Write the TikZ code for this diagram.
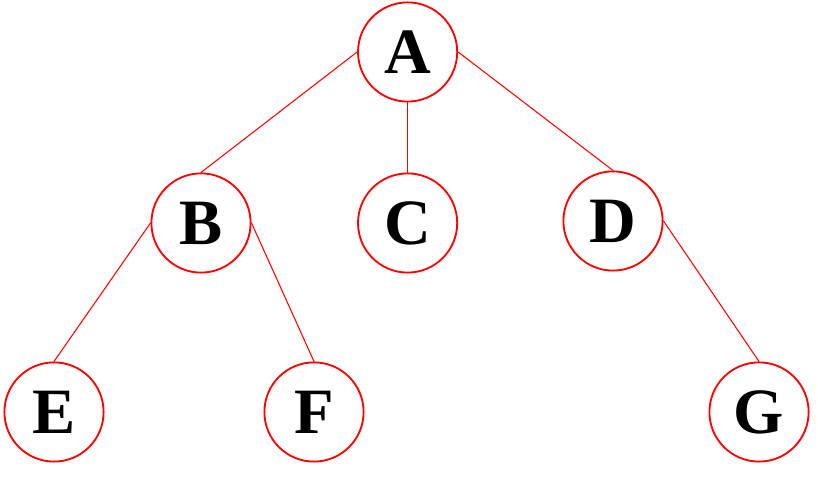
\documentclass[tikz,border=0pt]{standalone}
\usepackage{fontspec}
\setmainfont{Liberation Serif}

\begin{document}
\begin{tikzpicture}[line join=round, line cap=round]
	\tikzset{
		vertex/.style={circle, draw=red, line width=1.3pt, minimum size=2.48cm, inner sep=0pt,
			font=\fontsize{46}{46}\selectfont\bfseries},
		branch/.style={red, line width=0.75pt}
	}
	\useasboundingbox (0,0) rectangle (20.45,12.075);
	% Vertices
	\node[vertex] (A) at (10.19,10.775) {A};
	\node[vertex] (B) at (5.025,6.5) {B};
	\node[vertex] (C) at (10.19,6.5) {C};
	\node[vertex] (D) at (15.325,6.55) {D};
	\node[vertex] (E) at (1.35,1.775) {E};
	\node[vertex] (F) at (7.85,1.775) {F};
	\node[vertex] (G) at (18.975,1.775) {G};
	% Branches
	\draw[branch] (A.west)--(B.north);
	\draw[branch] (A.south)--(C.north);
	\draw[branch] (A.east)--(D.north);
	\draw[branch] (B.west)--(E.north);
	\draw[branch] (B.east)--(F.north);
	\draw[branch] (D.east)--(G.north);
\end{tikzpicture}
\end{document}
